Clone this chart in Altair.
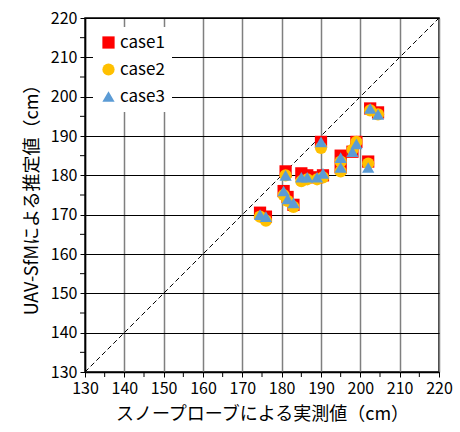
import altair as alt
import pandas as pd

measured = [174.5, 176.0, 181.0, 180.5, 181.5, 183.0, 185.0, 186.5, 189.0, 190.5,
            190.0, 195.0, 195.0, 198.0, 199.0, 202.0, 202.5, 204.5]
case1 = [170.5, 169.5, 181.0, 176.0, 174.5, 172.5, 180.5, 180.0, 179.5, 180.0,
         188.5, 185.0, 182.0, 186.0, 188.5, 183.5, 197.0, 196.0]
case2 = [169.5, 168.5, 180.0, 175.0, 173.5, 172.0, 178.5, 179.0, 179.0, 179.5,
         187.0, 183.5, 181.0, 186.5, 188.5, 183.0, 196.5, 195.5]
case3 = [170.0, 169.5, 180.0, 176.0, 174.0, 173.0, 179.5, 179.5, 179.5, 180.5,
         188.5, 184.5, 182.0, 186.0, 188.0, 182.0, 197.0, 195.5]
cases = ["case1", "case2", "case3"]
colors = ["#FF0000", "#FFC000", "#5B9BD5"]
shapes = ["square", "circle", "triangle-up"]
sizes = [150, 150, 150]
axis_min, axis_max = 130, 220

rows = []
for name, ys in zip(cases, [case1, case2, case3]):
    for xv, yv in zip(measured, ys):
        rows.append({"x": xv, "y": yv, "case": name})
df = pd.DataFrame(rows)
diag = pd.DataFrame({"x": [axis_min, axis_max], "y": [axis_min, axis_max]})
minor = pd.DataFrame({"v": list(range(axis_min + 5, axis_max, 10))})

font = "Noto Sans CJK JP"
major = list(range(axis_min, axis_max + 1, 10))

xscale = alt.Scale(domain=[axis_min, axis_max], nice=False, zero=False)
yscale = alt.Scale(domain=[axis_min, axis_max], nice=False, zero=False)

xaxis = alt.Axis(values=major, gridColor="#7f7f7f", gridWidth=1.5, tickColor="black",
                 tickSize=5, domainColor="black", domainWidth=1.5, labelFontSize=16,
                 labelFont=font, labelColor="black", title="スノープローブによる実測値（cm）",
                 titleFontSize=18, titleFont=font, titleFontWeight="normal",
                 titleColor="black", labelPadding=3, titlePadding=9, labelFlush=False)
yaxis = alt.Axis(values=major, gridColor="black", gridWidth=1, tickColor="black",
                 tickSize=5, domainColor="black", domainWidth=1.5, labelFontSize=16,
                 labelFont=font, labelColor="black", title="UAV-SfMによる推定値（cm）",
                 titleFontSize=18, titleFont=font, titleFontWeight="normal",
                 titleColor="black", labelPadding=3, titlePadding=9, labelFlush=False)

line = alt.Chart(diag).mark_line(color="black", strokeDash=[5, 3], strokeWidth=1).encode(
    x=alt.X("x:Q", scale=xscale, axis=xaxis),
    y=alt.Y("y:Q", scale=yscale, axis=yaxis),
)

# minor ticks at the 5s, drawn just outside the axes
xminor = alt.Chart(minor).mark_rule(color="black", strokeWidth=1).encode(
    x=alt.X("v:Q", scale=xscale, axis=xaxis),
    y=alt.value(354), y2=alt.value(359),
)
yminor = alt.Chart(minor).mark_rule(color="black", strokeWidth=1).encode(
    y=alt.Y("v:Q", scale=yscale, axis=yaxis),
    x=alt.value(-5), x2=alt.value(0),
)

points = alt.Chart(df).mark_point(filled=True, opacity=1, strokeWidth=0).encode(
    x=alt.X("x:Q", scale=xscale, axis=xaxis),
    y=alt.Y("y:Q", scale=yscale, axis=yaxis),
    color=alt.Color("case:N", scale=alt.Scale(domain=cases, range=colors),
                    legend=alt.Legend(title=None, orient="none", legendX=8, legendY=9,
                                      fillColor="white", padding=7, labelFontSize=17,
                                      labelFont=font, labelColor="black", symbolSize=170,
                                      rowPadding=8, labelOffset=3, symbolOpacity=1)),
    shape=alt.Shape("case:N", scale=alt.Scale(domain=cases, range=shapes)),
    size=alt.Size("case:N", scale=alt.Scale(domain=cases, range=sizes), legend=None),
    order=alt.Order("case:N"),
)

chart = alt.layer(line, xminor, yminor, points).properties(
    width=354, height=354,
    autosize="none",
    padding={"left": 85, "top": 18, "right": 21, "bottom": 60},
    background="white",
).configure_view(stroke="black", strokeWidth=1.5)

chart.save("out.html", embed_options={"renderer": "svg", "actions": False})
